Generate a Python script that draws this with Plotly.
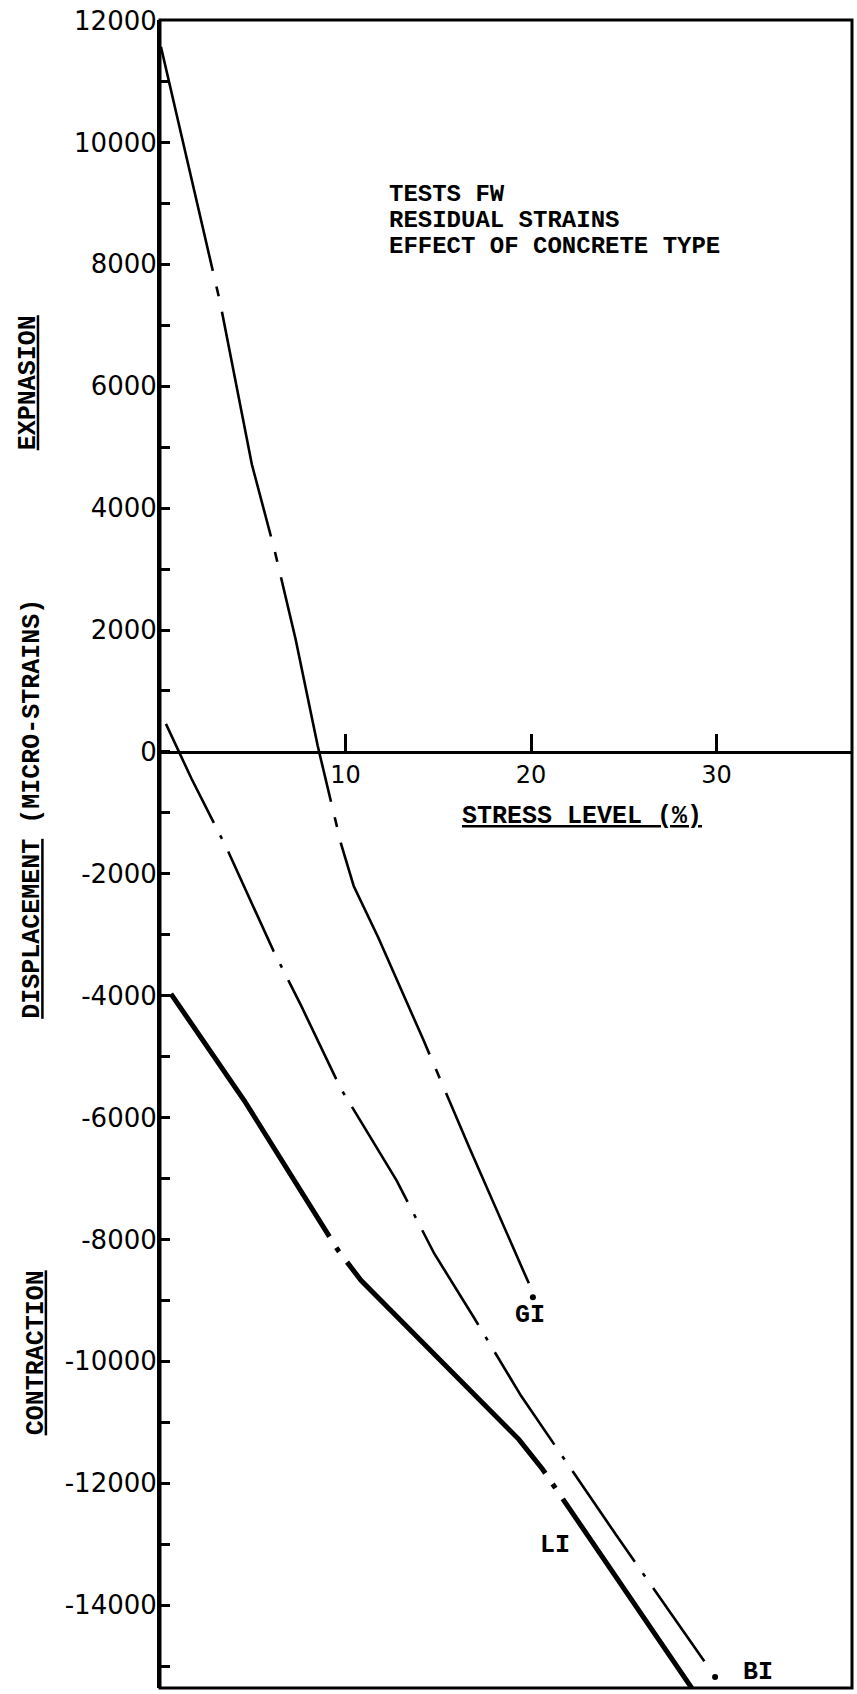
import plotly.graph_objects as go

# ---- data (stress level %, residual strain in micro-strains) ----
gi_x = [0.05, 3.23, 4.95, 6.16, 7.31, 8.50, 9.76, 10.44, 11.77, 14.16, 16.70, 19.88]
gi_y = [11570, 7390, 4720, 3330, 1850, 100, -1510, -2200, -3050, -4700, -6510, -8720]
gi_end_x = [20.10]
gi_end_y = [-8950]

bi_x = [0.32, 1.70, 3.61, 6.11, 7.60, 9.72, 12.75, 14.78, 16.96, 19.47, 24.59, 29.34]
bi_y = [460, -440, -1590, -3260, -4160, -5510, -7030, -8230, -9300, -10570, -12850, -14920]
bi_end_x = [29.92]
bi_end_y = [-15180]

li_x = [0.59, 4.54, 9.60, 10.83, 19.34, 20.62, 28.84]
li_y = [-3970, -5720, -8180, -8670, -11280, -11770, -15440]

x_tickvals = [10, 20, 30]
x_ticktext = ["10", "20", "30"]
y_tickvals = [12000, 10000, 8000, 6000, 4000, 2000, 0, -2000, -4000, -6000,
              -8000, -10000, -12000, -14000]
y_ticktext = ["12000", "10000", "8000", "6000", "4000", "2000", "0", "-2000", "-4000",
              "-6000", "-8000", "-10000", "-12000", "-14000"]
y_minor = [11000, 9000, 7000, 5000, 3000, 1000, -1000, -3000, -5000, -7000, -9000,
           -11000, -13000, -15000]

X_RANGE = [0, 37.3]
Y_RANGE = [-15360, 12010]

TYPE_FONT = "Liberation Mono, Courier New, monospace"
NUM_FONT = "DejaVu Sans, sans-serif"

# plot area at window pixels x 160..852, y 20..1688 (page body margin removed below)
FIG_W, FIG_H = 857, 1694
M_L, M_R, M_T, M_B = 160, 5, 20, 6
PLOT_W = FIG_W - M_L - M_R

fig = go.Figure()

fig.add_trace(go.Scatter(x=gi_x, y=gi_y, mode="lines", name="GI",
                         line=dict(color="black", width=2.6, dash="230px,16px,10px,16px")))
fig.add_trace(go.Scatter(x=gi_end_x, y=gi_end_y, mode="markers", showlegend=False,
                         marker=dict(color="black", size=6)))
fig.add_trace(go.Scatter(x=bi_x, y=bi_y, mode="lines", name="BI",
                         line=dict(color="black", width=2.6, dash="110px,14px,4px,14px")))
fig.add_trace(go.Scatter(x=bi_end_x, y=bi_end_y, mode="markers", showlegend=False,
                         marker=dict(color="black", size=6)))
fig.add_trace(go.Scatter(x=li_x, y=li_y, mode="lines", name="LI",
                         line=dict(color="black", width=5, dash="290px,13px,5px,13px")))

zero_pos = (0 - Y_RANGE[0]) / (Y_RANGE[1] - Y_RANGE[0])

fig.update_layout(
    width=FIG_W, height=FIG_H,
    margin=dict(l=M_L, r=M_R, t=M_T, b=M_B, autoexpand=False),
    paper_bgcolor="white", plot_bgcolor="white",
    showlegend=False,
    xaxis=dict(range=X_RANGE, tickmode="array", tickvals=x_tickvals, ticktext=x_ticktext,
               ticks="inside", ticklen=17, tickwidth=3, tickcolor="black",
               showline=True, linewidth=3, linecolor="black", automargin=False,
               showgrid=False, zeroline=False, anchor="free", position=zero_pos,
               ticklabeloverflow="allow",
               tickfont=dict(family=NUM_FONT, size=24, color="black")),
    yaxis=dict(range=Y_RANGE, tickmode="array", tickvals=y_tickvals, ticktext=y_ticktext,
               ticks="inside", ticklen=10, tickwidth=3, tickcolor="black",
               minor=dict(tickmode="array", tickvals=y_minor, ticks="inside", ticklen=10,
                          tickwidth=3, tickcolor="black", showgrid=False),
               showline=True, linewidth=3, linecolor="black", automargin=False,
               showgrid=False, zeroline=False, ticklabelstandoff=-5,
               ticklabeloverflow="allow",
               tickfont=dict(family=NUM_FONT, size=26, color="black")),
    shapes=[dict(type="rect", xref="paper", yref="paper", x0=0, y0=0, x1=1, y1=1,
                 line=dict(color="black", width=3))],
)

tf = dict(family=TYPE_FONT, size=25, color="black", weight="bold")
tf_box = dict(family=TYPE_FONT, size=24, color="black", weight="bold")
ann = [
    dict(x=12.24, y=9148, text="TESTS FW", xanchor="left", font=tf_box),
    dict(x=12.24, y=8721, text="RESIDUAL STRAINS", xanchor="left", font=tf_box),
    dict(x=12.24, y=8295, text="EFFECT OF CONCRETE TYPE", xanchor="left", font=tf_box),
    dict(x=22.75, y=-1066, text="<u>STRESS LEVEL (%)</u>", xanchor="center", font=tf),
    dict(x=19.95, y=-9246, text="GI", xanchor="center", font=tf),
    dict(x=21.29, y=-13016, text="LI", xanchor="center", font=tf),
    dict(x=32.24, y=-15098, text="BI", xanchor="center", font=tf),
]
for a in ann:
    fig.add_annotation(xref="x", yref="y", showarrow=False, yanchor="middle", **a)

# rotated axis titles (placed in the left margin, paper x from window pixel position)
side = [
    dict(px=28, y=6049, text="<u>EXPNASION</u>"),
    dict(px=33, y=-934, text="<u>DISPLACEMENT</u> (MICRO-STRAINS)"),
    dict(px=36, y=-9869, text="<u>CONTRACTION</u>"),
]
for s in side:
    fig.add_annotation(xref="paper", yref="y", x=(s["px"] - 160) / PLOT_W, y=s["y"],
                       text=s["text"], textangle=-90, showarrow=False,
                       xanchor="center", yanchor="middle", font=tf)

fig.write_html("out.html", config={"displayModeBar": False},
               post_script="document.body.style.margin='0';")
